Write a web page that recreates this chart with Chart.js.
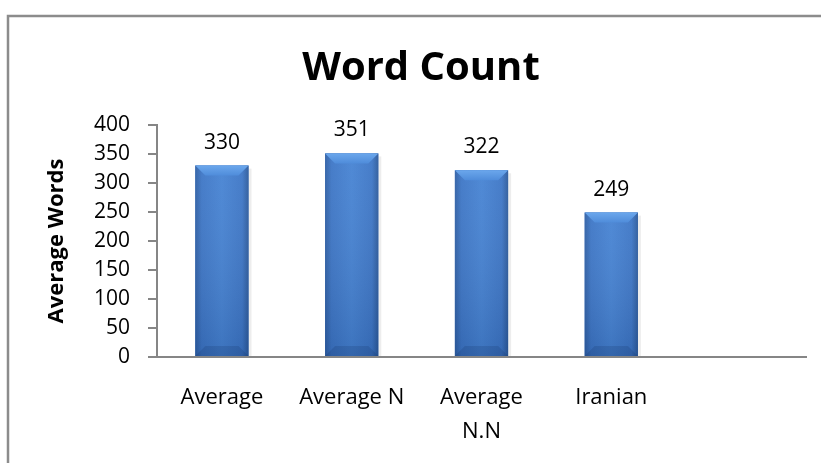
<!DOCTYPE html>
<html>
<head>
<meta charset="utf-8">
<script src="https://cdn.jsdelivr.net/npm/chart.js@4.4.1/dist/chart.umd.min.js"></script>
<style>
  html, body { margin: 0; padding: 0; background: #fff; }
  #wrap { width: 821px; height: 463px; }
</style>
</head>
<body>
<div id="wrap"><canvas id="chart"></canvas></div>
<script>
const categories = ["Average", "Average N", ["Average", "N.N"], "Iranian", ""];
const averageWords = [330, 351, 322, 249, null];
const yTicks = { min: 0, max: 400, step: 50 };

const FONT = "'Open Sans', 'DejaVu Sans', sans-serif";
const axisGray = "#868686";

// outer frame + heading
const framePlugin = {
  id: "frame",
  beforeDraw(chart) {
    const { ctx } = chart;
    ctx.save();
    ctx.strokeStyle = "#8c8c8c";
    ctx.lineWidth = 2.5;
    ctx.beginPath();
    ctx.moveTo(8, chart.height + 5);
    ctx.lineTo(8, 16);
    ctx.lineTo(chart.width + 5, 16);
    ctx.stroke();
    ctx.restore();
  },
  afterDraw(chart) {
    const { ctx } = chart;
    ctx.save();
    ctx.fillStyle = "#000";
    ctx.font = "bold 40px " + FONT;
    ctx.textAlign = "center";
    ctx.textBaseline = "alphabetic";
    ctx.fillText("Word Count", 421, 80);
    ctx.restore();
  },
};

// bevelled bar look and value labels
const barLookPlugin = {
  id: "barLook",
  afterDatasetsDraw(chart) {
    const { ctx } = chart;
    const meta = chart.getDatasetMeta(0);
    meta.data.forEach((bar, i) => {
      if (averageWords[i] == null) return;
      const w = bar.width;
      const x0 = bar.x - w / 2;
      const x1 = bar.x + w / 2;
      const top = bar.y;
      const bot = bar.base;
      const bev = 10;

      ctx.save();
      // soft shadow on the right
      ctx.fillStyle = "rgba(0,0,0,0.07)";
      ctx.fillRect(x1, top + 3, 3, bot - top - 3);

      // body
      let g = ctx.createLinearGradient(x0, 0, x1, 0);
      g.addColorStop(0, "#2f5fa4");
      g.addColorStop(0.12, "#3d76c6");
      g.addColorStop(0.5, "#4683d3");
      g.addColorStop(0.88, "#3d76c6");
      g.addColorStop(1, "#2c5a9b");
      ctx.fillStyle = g;
      ctx.fillRect(x0, top, w, bot - top);

      // darken toward bottom
      let v = ctx.createLinearGradient(0, top, 0, bot);
      v.addColorStop(0, "rgba(255,255,255,0.05)");
      v.addColorStop(1, "rgba(0,20,60,0.14)");
      ctx.fillStyle = v;
      ctx.fillRect(x0, top, w, bot - top);

      // top bevel
      let tg = ctx.createLinearGradient(0, top, 0, top + bev);
      tg.addColorStop(0, "#6ba7ec");
      tg.addColorStop(1, "#4f8cda");
      ctx.fillStyle = tg;
      ctx.beginPath();
      ctx.moveTo(x0, top);
      ctx.lineTo(x1, top);
      ctx.lineTo(x1 - bev, top + bev);
      ctx.lineTo(x0 + bev, top + bev);
      ctx.closePath();
      ctx.fill();

      // bottom bevel
      ctx.fillStyle = "rgba(20,50,100,0.2)";
      ctx.beginPath();
      ctx.moveTo(x0, bot);
      ctx.lineTo(x1, bot);
      ctx.lineTo(x1 - bev, bot - bev);
      ctx.lineTo(x0 + bev, bot - bev);
      ctx.closePath();
      ctx.fill();

      // value label
      ctx.fillStyle = "#000";
      ctx.font = "21px " + FONT;
      ctx.textAlign = "center";
      ctx.textBaseline = "alphabetic";
      ctx.fillText(String(averageWords[i]), bar.x, top - 17);
      ctx.restore();
    });
  },
};

new Chart(document.getElementById("chart"), {
  type: "bar",
  data: {
    labels: categories,
    datasets: [
      {
        label: "Average Words",
        data: averageWords,
        backgroundColor: "#3f78c8",
        borderWidth: 0,
        barPercentage: 0.41,
        categoryPercentage: 1,
      },
    ],
  },
  options: {
    responsive: true,
    maintainAspectRatio: false,
    animation: false,
    layout: { padding: { top: 125, right: 15, left: 0, bottom: 0 } },
    plugins: {
      legend: { display: false },
      tooltip: { enabled: false },
      title: { display: false },
    },
    scales: {
      x: {
        grid: { display: false },
        border: { display: true, color: axisGray, width: 2 },
        ticks: {
          color: "#000",
          font: { family: FONT, size: 22, lineHeight: 1.55 },
          padding: 16,
          maxRotation: 0,
          autoSkip: false,
        },
        afterFit(scale) {
          scale.height = 106;
        },
      },
      y: {
        min: yTicks.min,
        max: yTicks.max,
        grid: {
          drawOnChartArea: false,
          drawTicks: true,
          tickLength: 9,
          color: axisGray,
          lineWidth: 2,
        },
        border: { display: true, color: axisGray, width: 2 },
        ticks: {
          stepSize: yTicks.step,
          color: "#000",
          font: { family: FONT, size: 21 },
          padding: 18,
        },
        title: {
          display: true,
          text: "Average Words",
          color: "#000",
          font: { family: FONT, size: 22, weight: "bold" },
          padding: { top: 44, bottom: 0 },
        },
        afterFit(scale) {
          scale.width = 157;
        },
      },
    },
  },
  plugins: [framePlugin, barLookPlugin],
});
</script>
</body>
</html>
